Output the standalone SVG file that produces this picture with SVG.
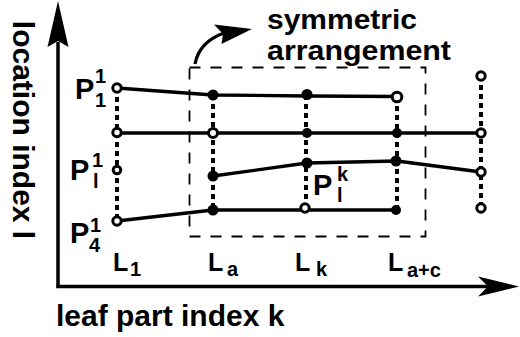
<svg xmlns="http://www.w3.org/2000/svg" width="520" height="337" viewBox="0 0 520 337">
<style>
text{font-family:"Liberation Sans",Arial,sans-serif;font-weight:bold;fill:#000}
.big{font-size:30px}
.sym{font-size:28px}
.p{font-size:29px}
.l{font-size:25px}
.s{font-size:20px}
.axis{stroke:#000;stroke-width:3.5;fill:none}
.solid{stroke:#000;stroke-width:3.3;fill:none;stroke-linejoin:round}
.dot{stroke:#000;stroke-width:4;fill:none;stroke-dasharray:5 4}
.box{stroke:#000;stroke-width:1.8;fill:none;stroke-dasharray:11 10}
.open{fill:#fff;stroke:#000;stroke-width:3}
.fill{fill:#000}
</style>
<rect width="520" height="337" fill="#fff"/>

<g id="axes">
  <path class="axis" d="M58,288 V42"/>
  <path d="M58,1 L68.5,47 L58,41 L47.5,47 Z" fill="#000"/>
  <path class="axis" d="M56.5,286.5 H492"/>
  <path d="M519,286.5 L478,276.5 L488,286.5 L478,296.5 Z" fill="#000"/>
</g>

<g id="axis-labels">
  <text class="big" transform="translate(13,130) rotate(90)" text-anchor="middle">location index l</text>
  <text class="big" x="56" y="326">leaf part index k</text>
</g>

<g id="symmetric-box">
  <rect class="box" x="189.5" y="67.5" width="236" height="169"/>
  <path class="solid" d="M195,64 Q199,42 224,33"/>
  <path d="M252,29 L214,24.5 L223,34 L221.5,44 Z" fill="#000"/>
  <text class="sym" x="267" y="28.5" textLength="150" lengthAdjust="spacingAndGlyphs">symmetric</text>
  <text class="sym" x="267" y="60" textLength="184" lengthAdjust="spacingAndGlyphs">arrangement</text>
</g>

<g id="connectors">
  <path class="dot" d="M117,88 V221"/>
  <path class="dot" d="M213,95 V210"/>
  <path class="dot" d="M306,95 V208"/>
  <path class="dot" d="M397,97 V210"/>
  <path class="dot" d="M481,76 V208"/>
  <path class="solid" d="M117,88 L213,95 L307,96 L397,96.5"/>
  <path class="solid" d="M117,133 H481"/>
  <path class="solid" d="M213,176 L307,163 L397,161 L481,172"/>
  <path class="solid" d="M117,221 L213,210 L397,210"/>
</g>

<g id="col-L1">
  <circle class="open" cx="117" cy="88" r="4.2"/>
  <circle class="open" cx="117" cy="132.5" r="4.2"/>
  <circle class="open" cx="117" cy="170" r="3.8"/>
  <circle class="open" cx="117" cy="221" r="4.2"/>
</g>
<g id="col-La">
  <circle class="fill" cx="213" cy="95" r="5.5"/>
  <circle class="open" cx="213" cy="133" r="4.5"/>
  <circle class="fill" cx="213" cy="176" r="5.5"/>
  <circle class="fill" cx="213" cy="210" r="5.5"/>
</g>
<g id="col-Lk">
  <circle class="fill" cx="307" cy="94.5" r="5.5"/>
  <circle class="fill" cx="307" cy="133" r="5"/>
  <circle class="fill" cx="307" cy="163" r="5.5"/>
  <circle class="open" cx="305" cy="208" r="4.2"/>
</g>
<g id="col-Lac">
  <circle class="open" cx="397" cy="97" r="4.8"/>
  <circle class="fill" cx="397" cy="133" r="5"/>
  <circle class="fill" cx="396" cy="161" r="5.5"/>
  <circle class="fill" cx="396" cy="210" r="5"/>
</g>
<g id="col-last">
  <circle class="open" cx="481" cy="76" r="4.2"/>
  <circle class="open" cx="481" cy="133" r="4.2"/>
  <circle class="open" cx="481" cy="172" r="4.2"/>
  <circle class="open" cx="481" cy="208" r="4.2"/>
</g>

<g id="point-labels">
  <text class="p" x="75" y="99">P</text>
  <text class="s" x="95" y="83">1</text>
  <text class="s" x="95" y="107">1</text>

  <text class="p" x="70" y="180">P</text>
  <text class="s" x="92" y="167">1</text>
  <text class="s" x="93" y="188">l</text>

  <text class="p" x="70" y="243">P</text>
  <text class="s" x="90" y="232">1</text>
  <text class="s" x="89" y="252">4</text>

  <text class="p" x="313" y="195">P</text>
  <text class="s" x="337" y="181">k</text>
  <text class="s" x="337" y="202">l</text>
</g>

<g id="column-labels">
  <text class="l" x="113" y="271">L</text>
  <text class="s" x="130" y="276">1</text>
  <text class="l" x="208" y="271">L</text>
  <text class="s" x="227" y="276">a</text>
  <text class="l" x="295" y="271">L</text>
  <text class="s" x="316" y="276">k</text>
  <text class="l" x="388" y="271">L</text>
  <text class="s" x="407" y="277">a+c</text>
</g>
</svg>
